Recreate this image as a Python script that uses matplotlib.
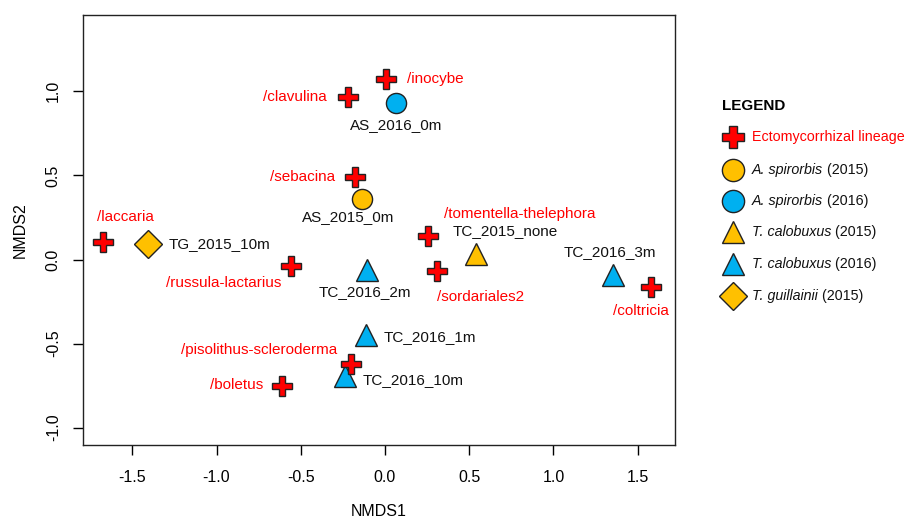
import matplotlib
matplotlib.use("Agg")
import matplotlib.pyplot as plt

plt.rcParams['font.family'] = ['Liberation Sans', 'DejaVu Sans']

# Ectomycorrhizal lineages (red crosses)
lin_names = ["/laccaria", "/russula-lactarius", "/clavulina", "/inocybe", "/sebacina",
             "/tomentella-thelephora", "/sordariales2", "/coltricia",
             "/pisolithus-scleroderma", "/boletus"]
lin_x = [-1.675, -0.558, -0.22, 0.006, -0.178, 0.255, 0.309, 1.58, -0.20, -0.61]
lin_y = [0.104, -0.039, 0.966, 1.073, 0.49, 0.14, -0.068, -0.163, -0.62, -0.752]

# Sample sites
site_names = ["TG_2015_10m", "TC_2016_2m", "AS_2016_0m", "AS_2015_0m", "TC_2015_none",
              "TC_2016_3m", "TC_2016_1m", "TC_2016_10m"]
site_x = [-1.407, -0.109, 0.065, -0.137, 0.54, 1.354, -0.113, -0.238]
site_y = [0.092, -0.06, 0.93, 0.36, 0.035, -0.09, -0.45, -0.69]
site_group = ["TG2015", "TC2016", "AS2016", "AS2015", "TC2015", "TC2016", "TC2016", "TC2016"]

x_ticks = [-1.5, -1.0, -0.5, 0.0, 0.5, 1.0, 1.5]
y_ticks = [-1.0, -0.5, 0.0, 0.5, 1.0]

YEL = "#FFC000"
BLU = "#00B0F0"
RED = "#FF0000"
group_style = {
    "AS2015": ("o", YEL, 14.5),
    "AS2016": ("o", BLU, 14.5),
    "TC2015": ("^", YEL, 16),
    "TC2016": ("^", BLU, 16),
    "TG2015": ("D", YEL, 14),
}

# label offsets in points (dx, dy, ha, va)
lin_lab = {
    "/laccaria": (16.5, 18, "center", "center"),
    "/russula-lactarius": (-7, -12.5, "right", "center"),
    "/clavulina": (-15, 0, "right", "center"),
    "/inocybe": (15, 0, "left", "center"),
    "/sebacina": (-14, 0, "right", "center"),
    "/tomentella-thelephora": (66, 16, "center", "center"),
    "/sordariales2": (31, -19, "center", "center"),
    "/coltricia": (-7, -17, "center", "center"),
    "/pisolithus-scleroderma": (-10, 10, "right", "center"),
    "/boletus": (-14, 1, "right", "center"),
}
site_lab = {
    "TG_2015_10m": (15, 0, "left", "center"),
    "TC_2016_2m": (-1, -16, "center", "center"),
    "AS_2016_0m": (0, -16, "center", "center"),
    "AS_2015_0m": (-10, -13, "center", "center"),
    "TC_2015_none": (21, 16, "center", "center"),
    "TC_2016_3m": (-2, 16, "center", "center"),
    "TC_2016_1m": (13, -1, "left", "center"),
    "TC_2016_10m": (13, -3, "left", "center"),
}

fig = plt.figure(figsize=(9.07, 5.2), dpi=100)
ax = fig.add_axes([83/907, 75/520, 592/907, 430/520])

fs = 11
for n, x, y, g in zip(site_names, site_x, site_y, site_group):
    m, c, s = group_style[g]
    ax.plot(x, y, marker=m, color=c, markersize=s, markeredgecolor="#222222",
            markeredgewidth=1.0, linestyle="none", zorder=3)
    dx, dy, ha, va = site_lab[n]
    ax.annotate(n, (x, y), xytext=(dx, dy), textcoords="offset points",
                ha=ha, va=va, fontsize=fs, color="#111111")

for n, x, y in zip(lin_names, lin_x, lin_y):
    ax.plot(x, y, marker="P", color=RED, markersize=14.5, markeredgecolor="#222222",
            markeredgewidth=1.0, linestyle="none", zorder=4)
    dx, dy, ha, va = lin_lab[n]
    ax.annotate(n, (x, y), xytext=(dx, dy), textcoords="offset points",
                ha=ha, va=va, fontsize=fs, color=RED)

ax.set_xlim(-1.793, 1.722)
ax.set_ylim(-1.103, 1.454)
ax.set_xticks(x_ticks)
ax.set_xticklabels([f"{t:.1f}" for t in x_ticks], fontsize=11.5)
ax.set_yticks(y_ticks)
ax.set_yticklabels([f"{t:.1f}" for t in y_ticks], fontsize=11.5, rotation=90, va="center")
ax.tick_params(axis="x", length=7, width=1, direction="out", pad=11)
ax.tick_params(axis="y", length=7, width=1, direction="out", pad=9)
for sp in ax.spines.values():
    sp.set_linewidth(1.0)
    sp.set_color("#222222")
ax.set_xlabel("NMDS1", fontsize=11.5, labelpad=14)
ax.set_ylabel("NMDS2", fontsize=11.5, labelpad=13)

# Legend
fig.text(722/907, 1 - 106/520, "LEGEND", fontsize=11, fontweight="bold",
         ha="left", va="center")
leg_rows = [
    ("P", RED, 15.5, [("Ectomycorrhizal lineage", "normal")], RED),
    ("o", YEL, 16, [("A. spirorbis", "italic"), (" (2015)", "normal")], "#111111"),
    ("o", BLU, 16, [("A. spirorbis", "italic"), (" (2016)", "normal")], "#111111"),
    ("^", YEL, 16, [("T. calobuxus", "italic"), (" (2015)", "normal")], "#111111"),
    ("^", BLU, 16, [("T. calobuxus", "italic"), (" (2016)", "normal")], "#111111"),
    ("D", YEL, 14, [("T. guillainii", "italic"), (" (2015)", "normal")], "#111111"),
]
row_y = [137, 170, 201, 232, 264, 296]
lax = fig.add_axes([0, 0, 1, 1], facecolor="none")
lax.set_xlim(0, 907)
lax.set_ylim(520, 0)
lax.axis("off")
fig.canvas.draw()
r = fig.canvas.get_renderer()
for (m, c, s, parts, tc), yy in zip(leg_rows, row_y):
    lax.plot(733, yy, marker=m, color=c, markersize=s, markeredgecolor="#222222",
             markeredgewidth=1.0, linestyle="none")
    xx = 752
    for txt, style in parts:
        t = lax.text(xx, yy, txt, fontsize=10.3, style=style, color=tc, ha="left", va="center")
        bb = t.get_window_extent(renderer=r)
        xx += bb.width

fig.savefig("out.png", dpi=100)
